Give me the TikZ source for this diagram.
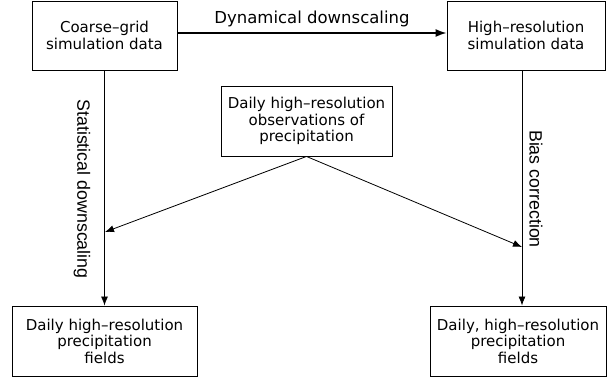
\documentclass[tikz,border=0pt]{standalone}
\usepackage{fontspec}
\setmainfont{DejaVu Sans}
\newfontfamily\labfont{Liberation Sans}
\usetikzlibrary{arrows.meta}
\begin{document}
\begin{tikzpicture}[x=1pt,y=-1pt,
  box/.style={draw=black,line width=0.9pt,inner sep=0pt,align=center,
    font=\fontsize{15}{16.5}\selectfont},
  conn/.style={line width=0.8pt,-{Latex[length=9pt,width=7pt]}},
  rotlab/.style={rotate=-90,font=\labfont\fontsize{17.8}{20}\selectfont,inner sep=0pt}]
\useasboundingbox (0,0) rectangle (607,381);
\node[box,minimum width=145pt,minimum height=69pt] (A) at (104.5,35.5) {Coarse–grid\\simulation data};
\node[box,minimum width=158pt,minimum height=69pt] (B) at (526,35.5) {High–resolution\\simulation data};
\node[box,minimum width=171pt,minimum height=70pt] (C) at (306.5,121) {Daily high–resolution\\observations of\\precipitation};
\node[box,minimum width=185pt,minimum height=70pt] (D) at (104.5,341) {Daily high–resolution\\precipitation\\fields};
\node[box,minimum width=176pt,minimum height=70pt] (E) at (518,341) {Daily, high–resolution\\precipitation\\fields};
\coordinate (hy) at (0,33);
\coordinate (rx) at (522,0);
\coordinate (pL) at (105,232);
\coordinate (pR) at (522,247);
\draw[line width=1.6pt,-{Latex[length=11pt,width=8pt]}] (A.east |- hy) -- node[above=5pt,font=\fontsize{16.5}{18}\selectfont,inner sep=0pt] (dl) {Dynamical downscaling} (B.west |- hy);
\draw[conn] (A.south) -- (D.north);
\draw[conn] (rx |- B.south) -- (rx |- E.north);
\draw[conn] (C.south) -- (pL);
\draw[conn] (C.south) -- (pR);
\node[rotlab] (sl) at (82,189) {Statistical downscaling};
\node[rotlab] (bl) at (536,189) {Bias correction};
\end{tikzpicture}
\end{document}
